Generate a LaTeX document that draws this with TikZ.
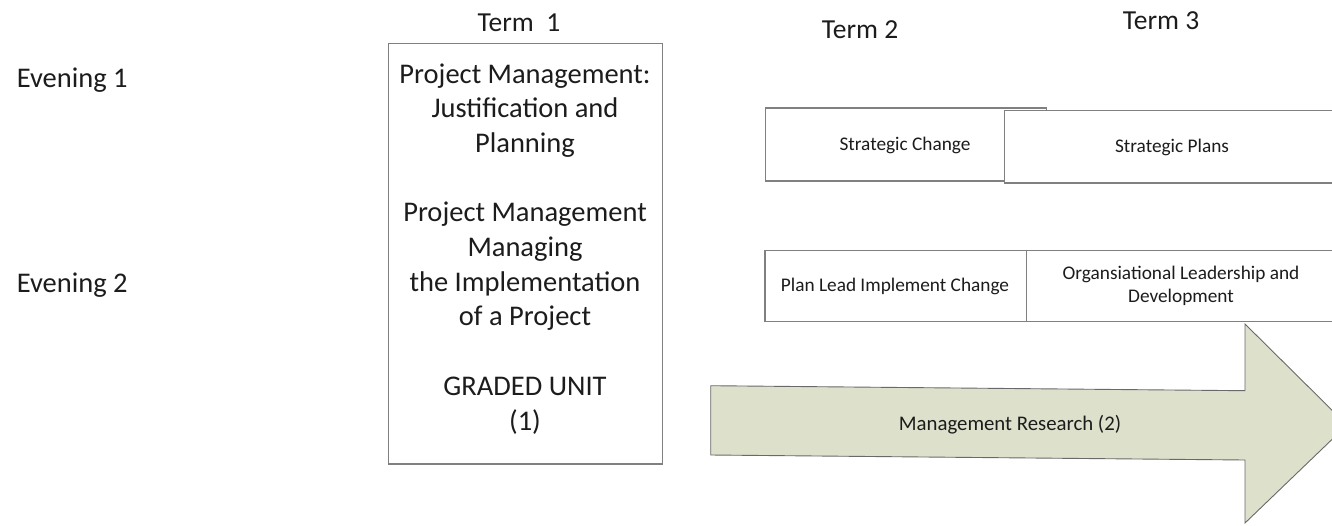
\documentclass[tikz,border=0pt]{standalone}
\usepackage{fontspec}
\setmainfont{Carlito}
\definecolor{framegray}{RGB}{128,128,128}
\definecolor{inkgray}{RGB}{28,28,28}
\definecolor{sage}{RGB}{221,225,204}
\definecolor{sageedge}{RGB}{105,105,105}
\begin{document}
\begin{tikzpicture}[x=1pt,y=-1pt,
  frame/.style={draw=framegray, line width=1.3pt, fill=white, inner sep=0pt, anchor=north west},
  lbl/.style={inner sep=0pt, text=inkgray},
  bigtxt/.style={font=\fontsize{28.5}{34.67}\selectfont},
  termtxt/.style={font=\fontsize{27.5}{33}\selectfont},
  smalltxt/.style={font=\fontsize{19.3}{23.5}\selectfont},
  arrowtxt/.style={font=\fontsize{20.8}{25}\selectfont},
  bigarrow/.style={fill=sage, draw=sageedge, line width=0.9pt, line join=miter}]
\useasboundingbox (0,0) rectangle (1332,525);
\clip (0,0) rectangle (1332,525);

% column headings
\node[lbl, termtxt, anchor=base] (term1) at (519,31.7) {Term~~1};
\node[lbl, termtxt, anchor=base] (term2) at (860,38) {Term 2};
\node[lbl, termtxt, anchor=base] (term3) at (1161,29) {Term 3};

% row headings
\node[lbl, bigtxt, anchor=base west] (eve1) at (16.7,87.3) {Evening 1};
\node[lbl, bigtxt, anchor=base west] (eve2) at (16.7,292.7) {Evening 2};

% term 1 column
\node[frame, minimum width=273.5pt, minimum height=420.5pt] (t1box) at (388,42.7) {};
\node[lbl, bigtxt, text width=270pt, align=flush center, anchor=base] (t1txt) at (525,83.3)
  {Project Management:\\Justification and\\Planning\\[34.67pt]Project Management\\Managing\\the Implementation\\of a Project\\[34.67pt]GRADED UNIT\\(1)};

% evening 1 units
\node[frame, minimum width=281.3pt, minimum height=73pt] (scbox) at (764.7,107.2) {};
\node[frame, minimum width=345pt, minimum height=72.3pt] (spbox) at (1003.5,110) {};
\node[lbl, smalltxt, anchor=base] (sctxt) at (905,150) {Strategic Change};
\node[lbl, smalltxt, anchor=base] (sptxt) at (1172,152.5) {Strategic Plans};

% evening 2 units
\node[frame, minimum width=261.2pt, minimum height=71pt] (plbox) at (764.3,250) {};
\node[frame, minimum width=330pt, minimum height=71pt] (olbox) at (1025.5,250) {};
\node[lbl, smalltxt, anchor=base] (pltxt) at (895,291.7) {Plan Lead Implement Change};
\node[lbl, smalltxt, text width=300pt, align=flush center, anchor=base] (oltxt) at (1181,279)
  {Organsiational Leadership and\\Development};

% research block arrow running through terms 2 and 3
\path[bigarrow] (710.7,385.7) -- (1245,390.7) -- (1245,324) -- (1347,425)
  -- (1245,523) -- (1245,460) -- (710.7,455) -- cycle;
\node[lbl, arrowtxt, anchor=base] (mrtxt) at (1010,430) {Management Research (2)};
\end{tikzpicture}
\end{document}
